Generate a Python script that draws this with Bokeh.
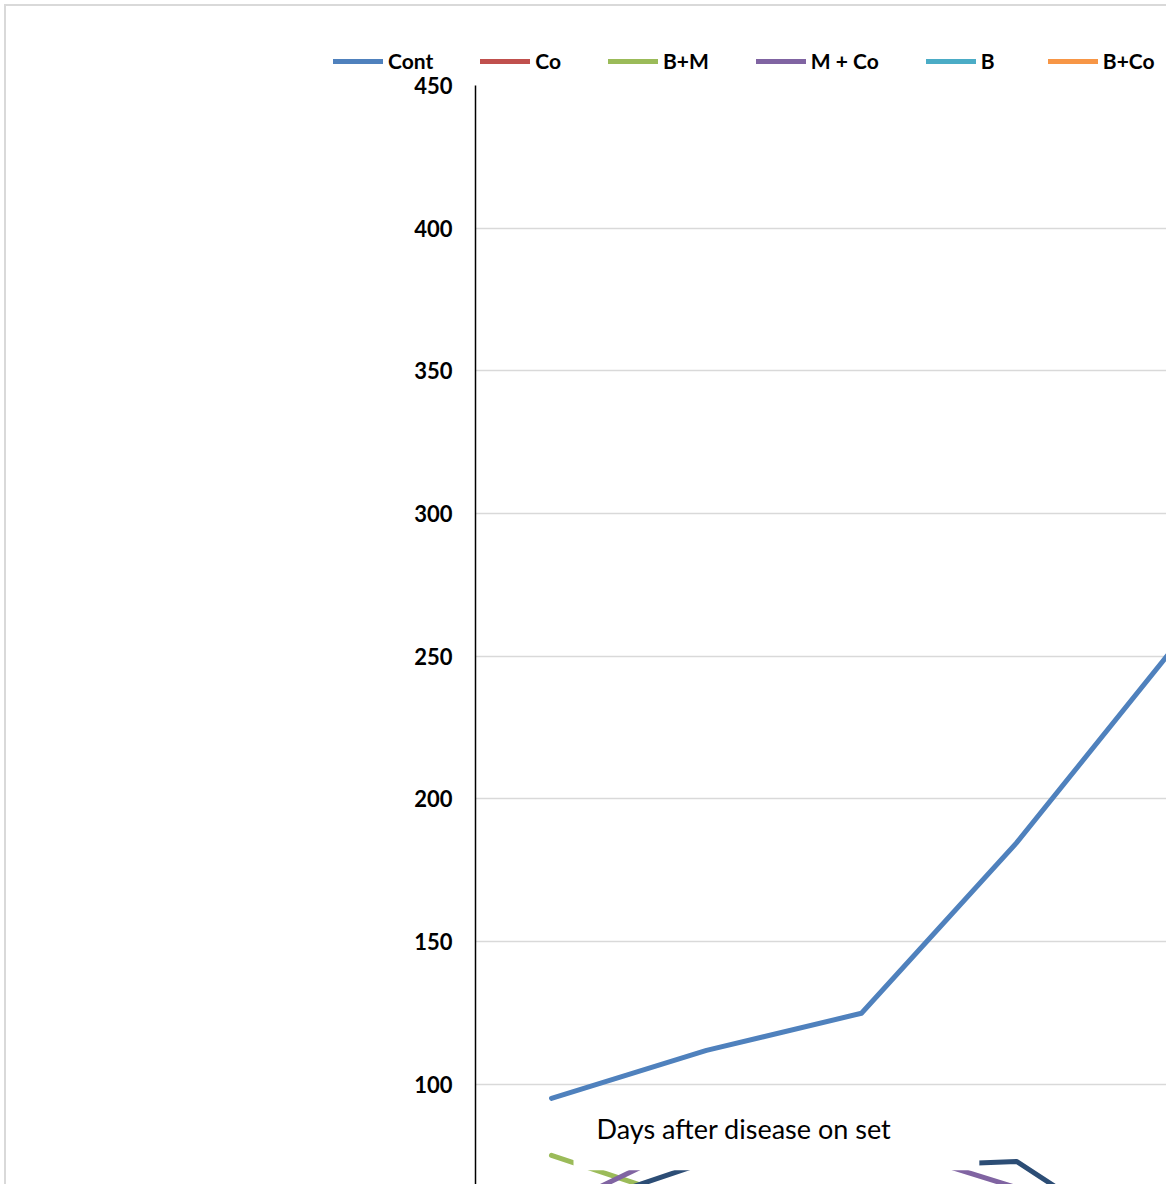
from bokeh.plotting import figure
from bokeh.layouts import column
from bokeh.models import Range1d, FixedTicker, Legend, LegendItem, Label
from bokeh.embed import file_html
from bokeh.resources import INLINE

# Sampling days (category axis) and disease index per treatment
days = ["3", "6", "9", "12", "15"]
x_pos = list(range(len(days)))

cont = [95.1, 111.9, 124.9, 184.6, 252.0]
co = [52.0, 48.0, 44.0, 40.0, 36.0]
b_m = [75.1, 57.0, 52.0, 47.0, 43.0]
m_co = [55.9, 82.1, 80.7, 63.8, 45.0]
b = [50.0, 46.0, 42.0, 38.0, 34.0]
b_co = [47.0, 43.0, 39.0, 35.0, 31.0]
m = [54.5, 72.8, 70.9, 73.0, 37.6]

series_names = ["Cont", "Co", "B+M", "M + Co", "B", "B+Co", "M"]
series_values = [cont, co, b_m, m_co, b, b_co, m]
series_colors = ["#4f81bd", "#c0504d", "#9bbb59", "#8064a2", "#4bacc6", "#f79646", "#2c4d75"]

y_ticks = [100, 150, 200, 250, 300, 350, 400, 450]

FONT = "Lato"
GREY = "#d9d9d9"
LINE_W = 5

# ---- legend strip above the plot ------------------------------------------
LEG_H = 70
p_leg = figure(
    width=1166, height=LEG_H, output_backend="svg", toolbar_location=None,
    x_range=Range1d(0, 1), y_range=Range1d(0, 1),
    x_axis_location=None, y_axis_location=None,
    min_border=0,
)
p_leg.frame_align = False
p_leg.outline_line_color = None
p_leg.background_fill_color = None
p_leg.border_fill_color = None
p_leg.grid.visible = False
p_leg.styles = {
    "background": (
        f"linear-gradient({GREY}, {GREY}) 4px 4px / 2px 100% no-repeat, "
        f"linear-gradient({GREY}, {GREY}) 4px 4px / 100% 2px no-repeat, "
        "white"
    )
}

# the strip's view window (0..1) lies below every value, so only the
# legend swatches of these renderers are seen
leg_items = []
for name, vals, color in zip(series_names, series_values, series_colors):
    r = p_leg.line(x_pos, vals, line_color=color, line_width=LINE_W,
                   line_cap="round", line_join="round")
    leg_items.append(LegendItem(label=name, renderers=[r]))

legend = Legend(
    items=leg_items, orientation="horizontal", location=(333, -3),
    glyph_width=50, glyph_height=20, label_height=20, label_standoff=5,
    spacing=47, padding=0, margin=0,
    border_line_color=None, background_fill_alpha=0,
    label_text_font=FONT, label_text_font_style="bold",
    label_text_font_size="21px", label_text_color="black",
)
p_leg.add_layout(legend)

# ---- main line chart -------------------------------------------------------
p = figure(
    width=1166, height=1184 - LEG_H,
    output_backend="svg", toolbar_location=None,
    x_range=Range1d(-0.4903, 3.968), y_range=Range1d(64.9, 450),
    x_axis_location=None,
    min_border_left=475, min_border_top=85 - LEG_H,
    min_border_right=0, min_border_bottom=0,
)
p.frame_align = False
p.outline_line_color = None
p.background_fill_color = None
p.border_fill_color = None
p.styles = {
    "background": (
        f"linear-gradient({GREY}, {GREY}) 4px 0 / 2px 100% no-repeat, "
        "white"
    )
}
p.xgrid.visible = False

yax = p.yaxis[0]
yax.ticker = FixedTicker(ticks=y_ticks)
yax.major_tick_line_color = None
yax.minor_tick_line_color = None
yax.major_tick_out = 0
yax.major_tick_in = 0
yax.axis_line_color = "black"
yax.axis_line_width = 1.5
yax.major_label_standoff = 23
yax.major_label_text_font = FONT
yax.major_label_text_font_style = "bold"
yax.major_label_text_font_size = "22px"
yax.major_label_text_color = "black"

p.ygrid.grid_line_color = GREY
p.ygrid.grid_line_width = 1.5

for vals, color in zip(series_values, series_colors):
    p.line(x_pos, vals, line_color=color, line_width=LINE_W,
           line_cap="round", line_join="round")

# Axis title box sitting inside the plot area
title = Label(
    x=0.142, y=94.4, anchor="top_left",
    text="Days after disease on set",
    text_font=FONT, text_font_size="27px", text_color="black",
    background_fill_color="white",
    padding=dict(left=23, right=88, top=12, bottom=25),
)
p.add_layout(title)

layout = column(p_leg, p, spacing=0)
open("out.html", "w").write(file_html(layout, INLINE))
